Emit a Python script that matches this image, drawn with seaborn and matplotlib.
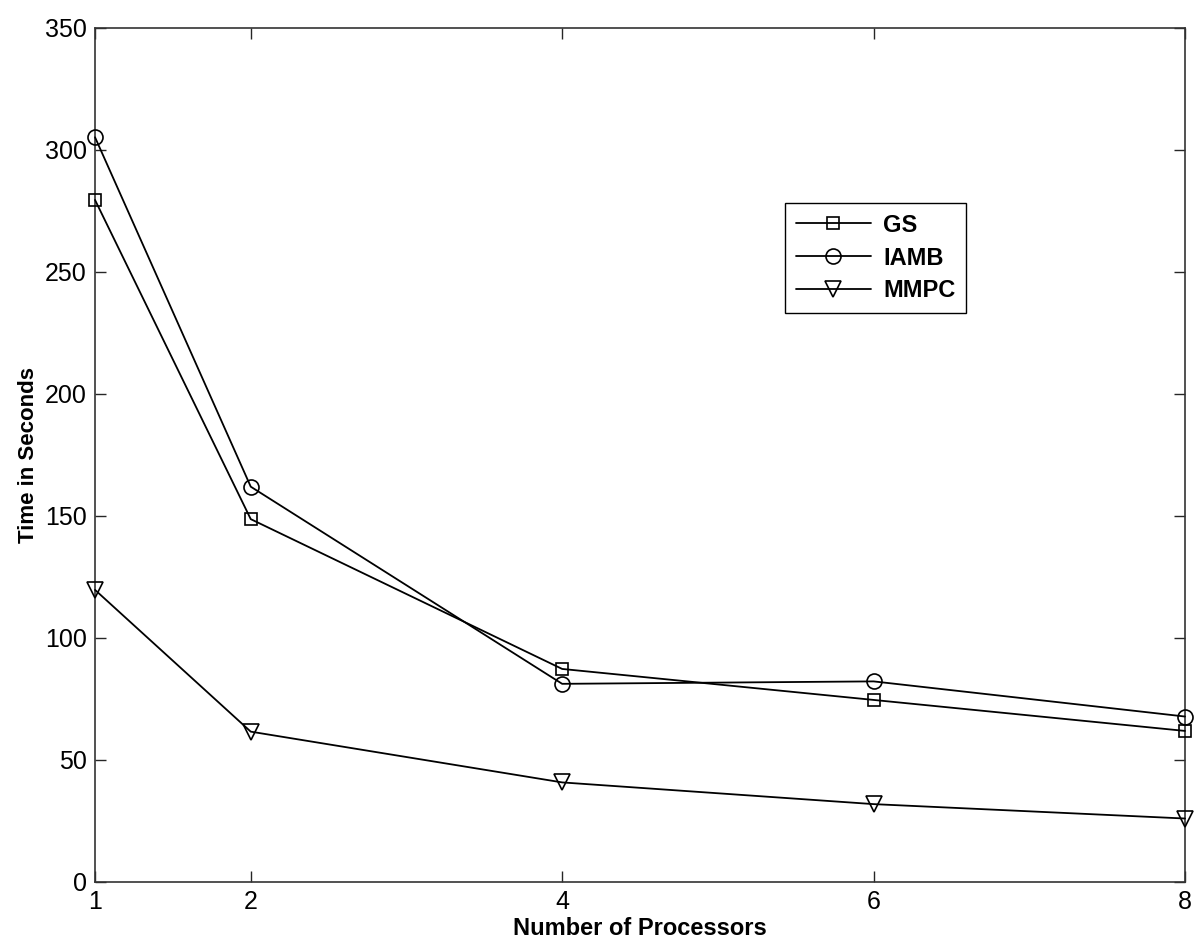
# Run time vs number of processors for GS, IAMB and MMPC.
import seaborn as sns
import matplotlib.pyplot as plt
import pandas as pd

# data
processors = [1, 2, 4, 6, 8]
gs = [279.5, 148.7, 87.3, 74.6, 61.9]
iamb = [305.2, 162.0, 81.2, 82.2, 67.8]
mmpc = [119.7, 61.6, 40.8, 31.9, 26.0]

y_ticks = [0, 50, 100, 150, 200, 250, 300, 350]

series = [('GS', gs, 's', 8.8), ('IAMB', iamb, 'o', 10.8), ('MMPC', mmpc, 'v', 12)]

sns.set_style('ticks')
plt.rcParams['font.family'] = ['Liberation Sans', 'DejaVu Sans']

fig = plt.figure(figsize=(12, 9.51), dpi=100)
ax = fig.add_axes([0.0792, 0.0726, 0.9083, 0.8980])

for name, vals, mk, ms in series:
    df = pd.DataFrame({'x': processors, 'y': vals})
    sns.lineplot(data=df, x='x', y='y', ax=ax, color='black', linewidth=1.3,
                 marker=mk, markersize=ms, mfc='none', mec='black', mew=1.2,
                 label=name, clip_on=False, zorder=3)

ax.set_xlim(1, 8)
ax.set_ylim(0, 350)
ax.set_xticks(processors)
ax.set_yticks(y_ticks)
ax.tick_params(direction='in', length=8, width=1, labelsize=18,
               labelcolor='black', top=True, right=True, pad=6)
for s in ax.spines.values():
    s.set_linewidth(1.2)
    s.set_color('#333333')

ax.set_xlabel('Number of Processors', fontsize=17, fontweight='bold',
              labelpad=2, color='black')
ax.set_ylabel('Time in Seconds', fontsize=16, fontweight='bold',
              labelpad=4, color='black')

leg = ax.legend(loc='upper left', bbox_to_anchor=(0.633, 0.795), fancybox=False,
                framealpha=1, edgecolor='black', prop={'size': 17, 'weight': 'bold'},
                handlelength=3.2, borderpad=0.45, labelspacing=0.42, handletextpad=0.5,
                borderaxespad=0)
leg.get_frame().set_linewidth(1.0)
for t in leg.get_texts():
    t.set_color('black')

fig.savefig('out.png', dpi=100)
